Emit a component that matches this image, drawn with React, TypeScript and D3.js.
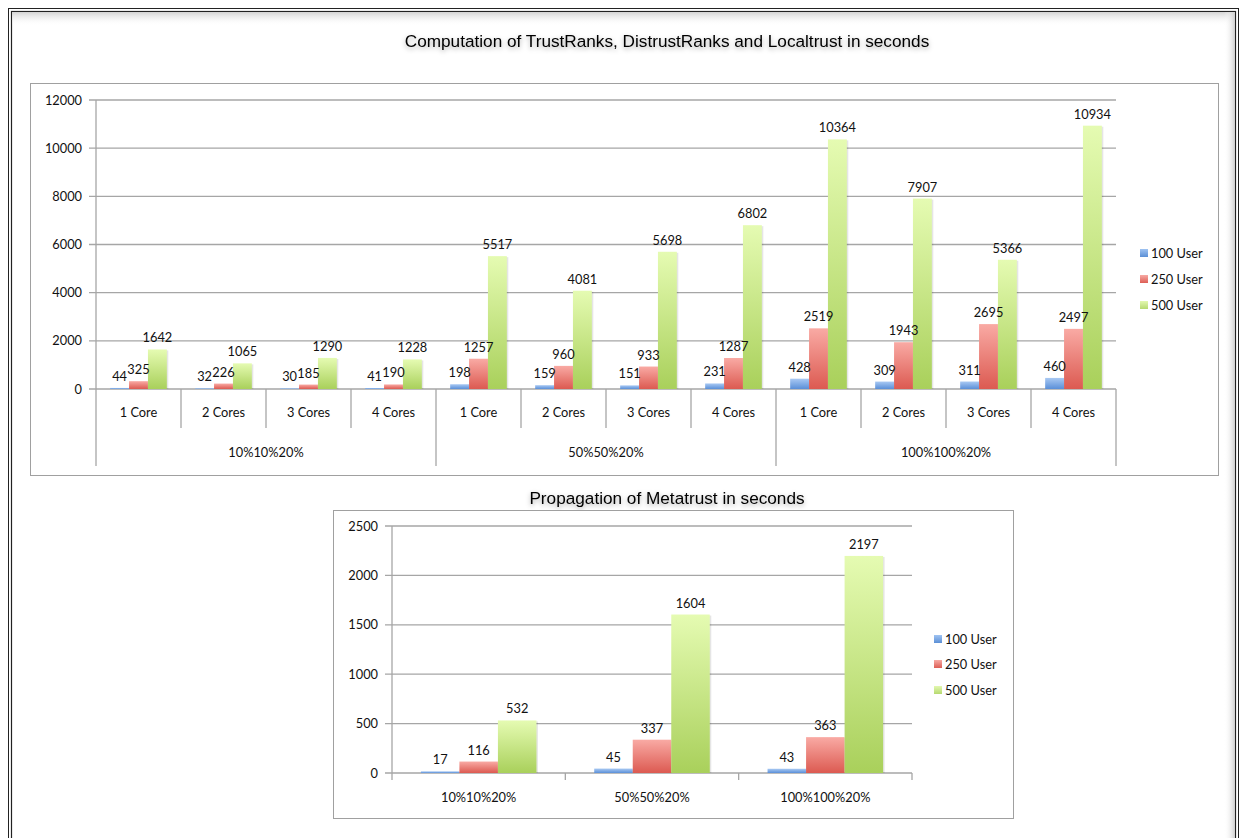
import React from "react";
import * as d3 from "d3";

const groups = ["10%10%20%", "50%50%20%", "100%100%20%"];
const cores = ["1 Core", "2 Cores", "3 Cores", "4 Cores"];
const seriesNames = ["100 User", "250 User", "500 User"];
const user100 = [44, 32, 30, 41, 198, 159, 151, 231, 428, 309, 311, 460];
const user250 = [325, 226, 185, 190, 1257, 960, 933, 1287, 2519, 1943, 2695, 2497];
const user500 = [1642, 1065, 1290, 1228, 5517, 4081, 5698, 6802, 10364, 7907, 5366, 10934];
const topTicks = [0, 2000, 4000, 6000, 8000, 10000, 12000];
const meta100 = [17, 45, 43];
const meta250 = [116, 337, 363];
const meta500 = [532, 1604, 2197];
const bottomTicks = [0, 500, 1000, 1500, 2000, 2500];

const topTitle = "Computation of TrustRanks, DistrustRanks and Localtrust in seconds";
const bottomTitle = "Propagation of Metatrust in seconds";

const FONT = "Lato, 'Open Sans', sans-serif";
const FS = 12.8;
const TITLE_FONT = "'Liberation Sans', Arial, sans-serif";
const gradIds = ["gBlue", "gRed", "gGreen"];
const legendColors = ["url(#lBlue)", "url(#lRed)", "url(#lGreen)"];

function Bars({ keys, values, x, y }) {
  const inner = d3.scaleBand().domain(seriesNames).range([0, x.bandwidth()]).paddingInner(0).paddingOuter(0.75);
  const bw = inner.bandwidth();
  const items = keys.flatMap((k, i) =>
    values.map((arr, s) => ({ k, s, v: arr[i], bx: x(k) + inner(seriesNames[s]), by: y(arr[i]), bh: y(0) - y(arr[i]) }))
  );
  return (
    <g>
      {items.map((d) => (
        <g key={d.k + d.s}>
          <rect x={d.bx + 1.5} y={d.by + 1} width={bw} height={Math.max(0, d.bh - 1)} fill="rgba(0,0,0,0.10)" />
          <rect x={d.bx} y={d.by} width={bw} height={d.bh} fill={`url(#${gradIds[d.s]})`} />
        </g>
      ))}
      {items.map((d) => (
        <text key={"t" + d.k + d.s} x={d.bx + bw / 2} y={d.by - 7} textAnchor="middle" fontSize={FS} fontFamily={FONT} fill="#111">
          {d.v}
        </text>
      ))}
    </g>
  );
}

function Legend({ x0, ys }) {
  return (
    <g>
      {seriesNames.map((n, i) => (
        <g key={n}>
          <rect x={x0} y={ys[i] - 5} width={8} height={8} fill={legendColors[i]} />
          <text x={x0 + 11} y={ys[i] + 4} fontSize={FS} fontFamily={FONT} fill="#111">
            {n}
          </text>
        </g>
      ))}
    </g>
  );
}

export default function App() {
  const topKeys = groups.flatMap((g) => cores.map((c) => g + "|" + c));
  const xTop = d3.scaleBand().domain(topKeys).range([96, 1116]);
  const yTop = d3.scaleLinear().domain([0, 12000]).range([389, 100]);
  const xBot = d3.scaleBand().domain(groups).range([392, 912]);
  const yBot = d3.scaleLinear().domain([0, 2500]).range([773, 526]);

  const gridColor = "#a6a6a6";

  return (
    <svg width={1244} height={838} style={{ position: "absolute", left: 0, top: 0, background: "#fff" }}>
      <defs>
        <linearGradient id="gBlue" x1="0" y1="0" x2="0" y2="1">
          <stop offset="0" stopColor="#a9c9f3" />
          <stop offset="1" stopColor="#5a8fd8" />
        </linearGradient>
        <linearGradient id="gRed" x1="0" y1="0" x2="0" y2="1">
          <stop offset="0" stopColor="#f9aaa4" />
          <stop offset="1" stopColor="#dc5a51" />
        </linearGradient>
        <linearGradient id="gGreen" x1="0" y1="0" x2="0" y2="1">
          <stop offset="0" stopColor="#e5fbb2" />
          <stop offset="1" stopColor="#a9d05b" />
        </linearGradient>
        <linearGradient id="lBlue" x1="0" y1="0" x2="0" y2="1">
          <stop offset="0" stopColor="#9fc3f2" />
          <stop offset="1" stopColor="#5b8fd6" />
        </linearGradient>
        <linearGradient id="lRed" x1="0" y1="0" x2="0" y2="1">
          <stop offset="0" stopColor="#f7aaa4" />
          <stop offset="1" stopColor="#dd5e55" />
        </linearGradient>
        <linearGradient id="lGreen" x1="0" y1="0" x2="0" y2="1">
          <stop offset="0" stopColor="#e3f8b0" />
          <stop offset="1" stopColor="#b6d970" />
        </linearGradient>
        <linearGradient id="rShadow" x1="0" y1="0" x2="1" y2="0">
          <stop offset="0" stopColor="#ffffff" stopOpacity="0" />
          <stop offset="1" stopColor="#cfcfcf" />
        </linearGradient>
        <linearGradient id="tShadow" x1="0" y1="0" x2="0" y2="1">
          <stop offset="0" stopColor="#d4d4d4" />
          <stop offset="1" stopColor="#ffffff" stopOpacity="0" />
        </linearGradient>
        <filter id="tsh" x="-10%" y="-50%" width="120%" height="200%">
          <feDropShadow dx="0" dy="2" stdDeviation="2.5" floodColor="#000" floodOpacity="0.35" />
        </filter>
      </defs>

      <rect x={0} y={0} width={1244} height={838} fill="#fff" />
      <rect x={8.5} y={8.5} width={1230} height={840} fill="none" stroke="#222" strokeWidth={1} />
      <rect x={11.5} y={11.5} width={1224} height={840} fill="none" stroke="#222" strokeWidth={1.2} />
      <rect x={12} y={12} width={1223} height={14} fill="url(#tShadow)" />
      <rect x={1224} y={12} width={11} height={826} fill="url(#rShadow)" />

      <text x={667} y={47} textAnchor="middle" fontSize={17.2} fontFamily={TITLE_FONT} fill="#000" filter="url(#tsh)">
        {topTitle}
      </text>

      <rect x={30.5} y={83.5} width={1188} height={392} fill="#fff" stroke="#a0a0a0" strokeWidth={1} />
      {topTicks.map((t) => (
        <g key={t}>
          <line x1={89} x2={1116} y1={yTop(t)} y2={yTop(t)} stroke={gridColor} strokeWidth={1.3} />
          <text x={82} y={yTop(t) + 4.5} textAnchor="end" fontSize={FS} fontFamily={FONT} fill="#111">
            {t}
          </text>
        </g>
      ))}
      <line x1={96} x2={96} y1={100} y2={466} stroke={gridColor} strokeWidth={1.3} />
      {topKeys.map((k, i) => {
        const xr = xTop(k) + xTop.bandwidth();
        const isGroupEnd = (i + 1) % cores.length === 0;
        return (
          <g key={k}>
            <line x1={xr} x2={xr} y1={389} y2={isGroupEnd ? 466 : 428} stroke={gridColor} strokeWidth={1.3} />
            <text x={xTop(k) + xTop.bandwidth() / 2} y={417} textAnchor="middle" fontSize={FS} fontFamily={FONT} fill="#111">
              {k.split("|")[1]}
            </text>
          </g>
        );
      })}
      {groups.map((g) => {
        const x0 = xTop(g + "|" + cores[0]);
        const x1 = xTop(g + "|" + cores[cores.length - 1]) + xTop.bandwidth();
        return (
          <text key={g} x={(x0 + x1) / 2} y={457} textAnchor="middle" fontSize={FS} fontFamily={FONT} fill="#111">
            {g}
          </text>
        );
      })}
      <Bars keys={topKeys} values={[user100, user250, user500]} x={xTop} y={yTop} />
      <Legend x0={1140} ys={[254, 280, 306]} />

      <text x={667} y={504} textAnchor="middle" fontSize={17.2} fontFamily={TITLE_FONT} fill="#000" filter="url(#tsh)">
        {bottomTitle}
      </text>

      <rect x={333.5} y={510.5} width={680} height={308} fill="#fff" stroke="#a0a0a0" strokeWidth={1} />
      {bottomTicks.map((t) => (
        <g key={t}>
          <line x1={385} x2={912} y1={yBot(t)} y2={yBot(t)} stroke={gridColor} strokeWidth={1.3} />
          <text x={378} y={yBot(t) + 4.5} textAnchor="end" fontSize={FS} fontFamily={FONT} fill="#111">
            {t}
          </text>
        </g>
      ))}
      <line x1={392} x2={392} y1={526} y2={780} stroke={gridColor} strokeWidth={1.3} />
      {groups.map((g) => (
        <g key={g}>
          <line x1={xBot(g) + xBot.bandwidth()} x2={xBot(g) + xBot.bandwidth()} y1={773} y2={780} stroke={gridColor} strokeWidth={1.3} />
          <text x={xBot(g) + xBot.bandwidth() / 2} y={802} textAnchor="middle" fontSize={FS} fontFamily={FONT} fill="#111">
            {g}
          </text>
        </g>
      ))}
      <Bars keys={groups} values={[meta100, meta250, meta500]} x={xBot} y={yBot} />
      <Legend x0={934} ys={[640, 665, 691]} />
    </svg>
  );
}
